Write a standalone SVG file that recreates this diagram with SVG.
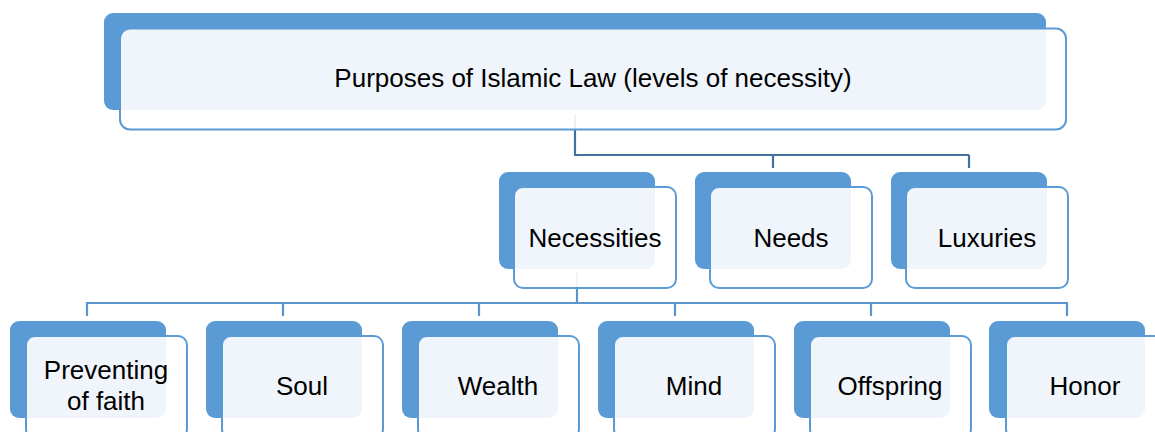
<svg xmlns="http://www.w3.org/2000/svg" width="1155" height="432" viewBox="0 0 1155 432">
<style>
.back{fill:#5B9BD5;}
.front{fill:#ffffff;fill-opacity:0.9;stroke:#5B9BD5;stroke-width:2;}
.lbl{font-family:"Liberation Sans",Arial,sans-serif;font-size:26px;fill:#000000;text-anchor:middle;}
.c1{fill:none;stroke:#41719C;stroke-width:2.2;}
.c2{fill:none;stroke:#5A95D0;stroke-width:2.2;}
</style>
<rect width="1155" height="432" fill="#ffffff"/>
<g id="connectors">
<path class="c1" d="M575 115V155H969M773 155V168M969 155V168"/>
<path class="c2" d="M577 273V303M87 316V303H1067V316M283 303V316M479 303V316M675 303V316M871 303V316"/>
</g>
<g id="node-root">
<rect class="back" x="104" y="13" width="942" height="97" rx="9"/>
<rect class="front" x="120" y="28.5" width="946" height="101" rx="10"/>
<text class="lbl" x="593" y="87">Purposes of Islamic Law (levels of necessity)</text>
</g>
<g id="node-necessities">
<rect class="back" x="499" y="172" width="156" height="97" rx="9"/>
<rect class="front" x="514" y="187" width="162" height="101" rx="9"/>
<text class="lbl" x="595" y="247">Necessities</text>
</g>
<g id="node-needs">
<rect class="back" x="695" y="172" width="156" height="97" rx="9"/>
<rect class="front" x="710" y="187" width="162" height="101" rx="9"/>
<text class="lbl" x="791" y="247">Needs</text>
</g>
<g id="node-luxuries">
<rect class="back" x="891" y="172" width="156" height="97" rx="9"/>
<rect class="front" x="906" y="187" width="162" height="101" rx="9"/>
<text class="lbl" x="987" y="247">Luxuries</text>
</g>
<g id="node-faith">
<rect class="back" x="10" y="321" width="156" height="97" rx="9"/>
<rect class="front" x="26" y="336" width="161" height="102" rx="9"/>
<text class="lbl" x="106" y="379">Preventing</text>
<text class="lbl" x="106" y="410">of faith</text>
</g>
<g id="node-soul">
<rect class="back" x="206" y="321" width="156" height="97" rx="9"/>
<rect class="front" x="222" y="336" width="161" height="102" rx="9"/>
<text class="lbl" x="302" y="395">Soul</text>
</g>
<g id="node-wealth">
<rect class="back" x="402" y="321" width="156" height="97" rx="9"/>
<rect class="front" x="418" y="336" width="161" height="102" rx="9"/>
<text class="lbl" x="498" y="395">Wealth</text>
</g>
<g id="node-mind">
<rect class="back" x="598" y="321" width="156" height="97" rx="9"/>
<rect class="front" x="614" y="336" width="161" height="102" rx="9"/>
<text class="lbl" x="694" y="395">Mind</text>
</g>
<g id="node-offspring">
<rect class="back" x="794" y="321" width="156" height="97" rx="9"/>
<rect class="front" x="810" y="336" width="161" height="102" rx="9"/>
<text class="lbl" x="890" y="395">Offspring</text>
</g>
<g id="node-honor">
<rect class="back" x="989" y="321" width="156" height="97" rx="9"/>
<rect class="front" x="1006" y="336" width="161" height="102" rx="9"/>
<text class="lbl" x="1085" y="395">Honor</text>
</g>
</svg>
